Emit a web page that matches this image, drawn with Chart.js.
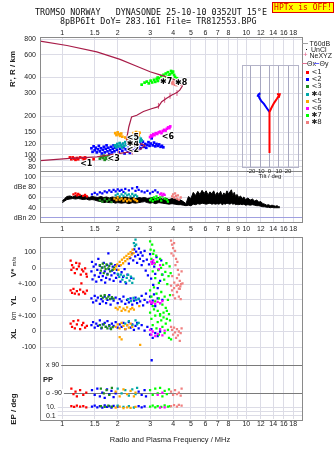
<!DOCTYPE html>
<html>
<head>
<meta charset="utf-8">
<title>Ionogram TR812553</title>
<script src="https://cdn.jsdelivr.net/npm/chart.js@4.4.0/dist/chart.umd.min.js"></script>
<style>
  html, body { margin: 0; padding: 0; background: #fff; }
  #page { position: relative; width: 335px; height: 451px; overflow: hidden; font-family: "Liberation Sans", Arial, sans-serif; color: #222; }
  #page canvas { position: absolute; left: 0; top: 0; }
  .txt { position: absolute; white-space: pre; line-height: 1; }
  .mono { font-family: "DejaVu Sans Mono", monospace; font-size: 8.4px; color: #111; }
  .rot { position: absolute; white-space: pre; line-height: 1; font-weight: bold; font-size: 8px; transform: translate(-50%, -50%) rotate(-90deg); }
  #hptx { position: absolute; left: 272px; top: 2px; width: 60px; height: 9px; background: #ffff00; border: 1px solid #e00000; color: #e00000; font-family: "DejaVu Sans Mono", monospace; font-size: 8px; line-height: 9px; text-align: center; }
</style>
</head>
<body>
<div id="page">
  <canvas id="cTop" width="335" height="451"></canvas>
  <canvas id="cDbe" width="335" height="451"></canvas>
  <canvas id="cLow" width="335" height="451"></canvas>
  <canvas id="cTilt" width="335" height="451"></canvas>

  <div class="txt mono" style="left:35px;top:8px">TROMSO NORWAY   DYNASONDE 25-10-10 0352UT 15°E</div>
  <div class="txt mono" style="left:60px;top:16.5px">8pBP6It DoY= 283.161 File= TR812553.BPG</div>
  <div id="hptx">HPTx is OFF!</div>

  <div class="rot" style="left:13px;top:69px">R', R / km</div>
  <div class="rot" style="left:14px;top:267px">V* <span style="font-size:6px;font-weight:normal">m/s</span></div>
  <div class="rot" style="left:14px;top:301px">YL</div>
  <div class="rot" style="left:14px;top:316px;font-size:6.5px;font-weight:normal">km</div>
  <div class="rot" style="left:14px;top:334px">XL</div>
  <div class="rot" style="left:14px;top:409px">EP / deg</div>
  <div class="txt" style="left:43px;top:376px;font-size:7.5px;font-weight:bold">PP</div>
  <div class="txt" style="left:270px;top:172.5px;transform:translateX(-50%);font-size:6px">Tilt / deg</div>
  <div class="txt" style="left:170px;top:436px;transform:translateX(-50%);font-size:7.5px">Radio and Plasma Frequency / MHz</div>
</div>

<script>
// ---- axes ----
const freqTicks = [1, 1.5, 2, 3, 4, 5, 6, 7, 8, 9, 10, 12, 14, 16, 18];
const edgeFreqLabels = [1, 1.5, 2, 3, 4, 5, 6, 7, 8, 10, 12, 14, 16, 18];
const midFreqLabels = [1, 1.5, 2, 3, 4, 5, 6, 7, 8, 9, 10, 12, 14, 16, 18];
const heightTicks = [80, 90, 100, 120, 150, 200, 300, 400, 600, 800];
const dbTicks = [20, 40, 60, 80, 100];
const dbNames = ['dBn 20', '40', '60', 'dBe 80', '100'];
const rowTicks = [100, 0, -100, -200, -300, -400, -500];          // V* scale, shared rows
const rowNames = ['100', '0', '+-100', '0', '+-100', '0', '-100'];
const tiltTicks = [-20, -10, 0, 10, 20];

// legend
const clusterNames = ['<1', '<2', '<3', '✱4', '<5', '<6', '✱7', '✱8'];
const clusterColors = ['#ff0000', '#0000ff', '#1e8c1e', '#00a8a8', '#ffa500', '#ff00ff', '#00ff00', '#f08080'];
const drawOrder = [7, 5, 6, 4, 3, 2, 1, 0];

// ---- top panel: virtual height vs frequency ----
const profile = [[0.757,89.6],[1.10,93.4],[1.54,95.9],[1.89,100.6],[2.06,102],[2.33,104.8],[2.5,106],[2.64,109],[2.81,118],[2.7,121],[2.5,119],[2.35,118],[2.26,124],[2.24,134],[2.3,165],[2.38,197],[2.54,203],[2.76,217],[3.05,228],[3.33,237],[3.47,259],[3.69,275],[3.94,292],[4.2,305],[4.36,320],[4.5,345],[4.45,356],[4.3,368],[4.1,383],[3.85,398],[3.4,420],[3.0,444],[2.5,495],[2.06,555],[1.54,635],[1.06,712],[0.757,771]];
const neXYZ = [[3.33,240],[3.6,268],[3.85,288],[4.2,303],[2.02,102],[2.4,105]];

const topRed = [[1.10,95],[1.12,92],[1.14,95],[1.16,93],[1.18,91],[1.20,94],[1.22,92],[1.25,95],[1.29,94],[1.31,92],[1.33,95],[1.35,93],[1.48,92]];
const topBlue = [[1.44,112],[1.46,105],[1.48,116],[1.50,108],[1.52,113],[1.54,104],[1.56,110],[1.58,117],[1.60,106],[1.62,112],[1.64,102],[1.66,109],[1.68,115],[1.70,104],[1.72,111],[1.74,118],[1.76,106],[1.78,113],[1.80,101],[1.82,108],[1.84,115],[1.86,104],[1.88,111],[1.90,118],[1.92,106],[1.94,113],[1.96,100],[1.98,109],[2.00,116],[2.03,104],[2.06,111],[2.09,119],[2.12,107],[2.15,114],[2.18,102],[2.21,110],[2.24,121],[2.27,106],[2.30,114],[2.33,103],[2.36,110],[2.39,118],[2.42,108],[2.45,115],[2.48,122],[2.51,111],[2.54,118],[2.57,109],[2.60,116],[2.63,123],[2.66,112],[2.70,119],[2.74,126],[2.78,115],[2.82,121],[2.86,113],[2.90,119],[2.94,125],[2.98,117],[3.02,122],[3.06,134],[3.10,118],[3.15,124],[3.20,116],[3.25,121],[3.30,117],[3.36,120],[3.42,115],[3.48,117],[3.54,114]];
const topGreen = [[1.60,93],[1.63,96],[1.66,94],[1.68,98],[1.70,91],[1.72,95],[1.75,93],[1.78,97],[1.80,92],[1.83,95]];
const topTeal = [[1.93,118],[1.96,114],[1.99,121],[2.02,116],[2.05,123],[2.08,118],[2.11,114],[2.14,122],[2.17,117],[2.20,125],[2.24,119],[2.28,130],[2.31,124],[2.34,136],[2.37,127],[2.40,132],[2.43,122],[2.46,139],[2.49,128],[2.52,134],[2.55,124],[2.58,131],[2.61,137],[2.64,127],[2.67,133],[2.70,129]];
const topOrange = [[1.94,147],[1.97,142],[2.00,149],[2.03,144],[2.06,140],[2.09,146],[2.12,138],[2.20,136],[2.25,133],[2.44,147],[2.48,143],[2.52,150],[2.56,145],[2.60,141],[2.63,148]];
const topMagenta = [[3.00,137],[3.04,141],[3.08,139],[3.12,144],[3.17,142],[3.22,147],[3.28,145],[3.34,149],[3.40,151],[3.46,147],[3.52,153],[3.58,156],[3.64,154],[3.70,159],[3.76,163],[3.82,161],[3.86,166]];
const topLime = [[2.70,352],[2.80,365],[2.88,372],[2.95,360],[3.02,378],[3.08,366],[3.15,384],[3.20,370],[3.26,390],[3.30,376],[3.36,395],[3.42,380],[3.45,410],[3.50,388],[3.55,420],[3.60,398],[3.65,430],[3.70,405],[3.75,440],[3.80,415],[3.85,425],[3.90,450],[3.95,435],[4.00,445],[4.05,420],[4.10,405],[4.20,395],[3.30,400],[3.55,365]];
const topSalmon = [[3.94,366],[3.98,357],[4.02,371],[4.06,360],[4.10,352],[4.14,364],[4.18,349],[4.22,368],[4.26,356],[4.30,361],[4.35,352]];

const labelFreq = [1.25, 1.76, 2.24, 2.24, 2.24, 3.47, 3.40, 4.10];
const labelHeight = [85, 92, 109, 121, 135, 137, 368, 362];
const labelText = ['<1', '<3', '<2', '✱4', '<5', '<6', '✱7', '✱8'];

// ---- tilt inset ----
const tiltRed = [[0,14],[0,54],[2,58],[5,63],[8,67],[10,70],[11,71.5]];
const tiltRedTip = [[8,71.5],[11,71.5],[10,68]];
const tiltBlue = [[0,54],[-3,58],[-6,62],[-9,65],[-11,68],[-12,71]];
const tiltBlueTip = [[-13,69],[-12,71],[-10,72.5]];

// ---- echo amplitude panel ----
const dbeFreq = [1.0,1.03,1.06,1.1,1.14,1.18,1.22,1.26,1.3,1.35,1.4,1.45,1.5,1.56,1.62,1.68,1.74,1.8,1.87,1.94,2.0,2.1,2.2,2.3,2.4,2.5,2.6,2.7,2.8,2.9,3.0,3.1,3.2,3.35,3.5,3.65,3.8,3.95,4.1,4.25,4.4,4.55,4.7,4.85,5.0,5.15,5.3,5.45,5.6,5.75,5.9,6.05,6.2,6.35,6.5,6.65,6.8,6.95,7.1,7.25,7.4,7.55,7.7,7.85,8.0,8.15,8.3,8.45,8.6,8.75,8.9,9.1,9.3,9.5,9.7,9.9,10.2,10.5,10.8,11.1,11.4,11.7,12.0,12.3,12.6,12.9,13.2,13.5,13.8,14.1,14.4,14.7,15.0,15.2];
const dbeHigh = [53,58,62,63,61,64,62,65,62,63,60,62,61,60,62,60,61,59,61,60,62,60,61,59,60,58,60,59,60,58,59,60,58,60,57,59,56,58,57,56,55,52,48,62,58,70,64,72,66,74,68,73,65,71,67,73,64,70,66,72,63,69,65,73,67,71,75,64,70,62,66,60,63,58,61,56,59,55,57,53,55,51,52,48,47,45,46,44,45,44,43,44,42,42];
const dbeLow = [50,53,56,57,58,57,58,57,56,57,55,56,55,53,52,50,51,50,51,49,50,49,50,48,50,49,50,51,52,50,49,50,48,50,49,48,47,48,47,46,46,45,44,45,44,47,46,48,47,49,48,47,48,49,47,48,47,48,47,49,46,48,47,49,48,47,49,47,48,46,47,46,47,46,47,45,46,45,46,45,44,44,43,42,42,41,41,40,41,40,40,40,40,40];

const dbRed = [[1.15,66],[1.18,68],[1.20,64],[1.22,67],[1.24,65],[1.30,63],[1.33,65],[1.36,62]];
const dbBlue = [[1.45,66],[1.50,69],[1.55,66],[1.60,70],[1.65,68],[1.70,72],[1.75,70],[1.80,74],[1.85,71],[1.90,75],[1.95,72],[2.00,76],[2.05,73],[2.10,75],[2.15,71],[2.20,77],[2.30,74],[2.40,78],[2.50,73],[2.55,80],[2.60,75],[2.70,72],[2.80,70],[2.90,73],[3.00,68],[3.10,71],[3.20,74],[3.30,70]];
const dbGreen = [[1.60,55],[1.65,52],[1.70,57],[1.75,53],[1.80,56],[1.85,51]];
const dbTeal = [[1.95,64],[2.00,67],[2.05,62],[2.10,66],[2.15,63],[2.20,68],[2.25,64],[2.30,66],[2.35,62],[2.40,67],[2.45,63],[2.50,65],[2.55,62]];
const dbOrange = [[1.92,58],[1.97,55],[2.00,60],[2.05,56],[2.10,58],[2.15,54],[2.20,57],[2.25,53],[2.30,56],[2.35,54],[2.45,57],[2.50,55],[2.55,53]];
const dbMagenta = [[3.40,66],[3.45,68],[3.50,64],[3.55,67],[3.60,65]];
const dbLime = [[3.00,55],[3.05,58],[3.10,53],[3.15,60],[3.20,56],[3.25,62],[3.30,57],[3.40,60],[3.45,54],[3.50,62],[3.60,58],[3.70,56],[3.75,52]];
const dbSalmon = [[3.95,62],[4.00,66],[4.05,60],[4.10,68],[4.15,63],[4.20,58],[4.25,64],[4.30,56],[4.40,60]];

// ---- lower panel: V* (m/s) ----
const vRed = [[1.11,48],[1.13,20],[1.12,-10],[1.15,5],[1.17,-30],[1.19,35],[1.20,-5],[1.23,12],[1.26,-40],[1.28,-8],[1.30,-20],[1.33,0],[1.35,-35],[1.36,-52],[1.24,30]];
const vBlue = [[1.44,-20],[1.45,40],[1.46,-70],[1.48,10],[1.50,-45],[1.52,25],[1.53,-85],[1.55,-10],[1.57,60],[1.58,-55],[1.60,15],[1.61,-30],[1.63,-75],[1.65,5],[1.66,-50],[1.68,35],[1.70,-20],[1.71,-90],[1.73,-60],[1.75,20],[1.76,-35],[1.78,95],[1.79,-5],[1.81,-70],[1.83,30],[1.85,-45],[1.86,-15],[1.88,10],[1.90,-80],[1.92,-30],[1.94,20],[1.96,-60],[1.98,-10],[2.01,-40],[2.04,15],[2.07,-85],[2.10,-25],[2.14,-55],[2.18,-5],[2.22,-95],[2.26,-40],[2.30,30],[2.34,65],[2.37,-60],[2.40,95],[2.43,50],[2.46,120],[2.49,75],[2.52,105],[2.55,35],[2.58,85],[2.61,125],[2.64,60],[2.67,100],[2.70,20],[2.73,80],[2.76,45],[2.80,110],[2.84,-15],[2.88,55],[2.92,-45],[2.96,25],[3.00,90],[3.04,-65],[3.08,40],[3.12,-105],[3.16,10],[3.20,-35],[3.25,70],[3.30,-125],[3.35,-5],[3.40,-80],[3.45,50],[3.50,-40]];
const vGreen = [[1.60,20],[1.62,-15],[1.64,5],[1.66,30],[1.68,-30],[1.70,10],[1.72,-5],[1.74,25],[1.76,-40],[1.78,0],[1.80,15],[1.82,-20],[1.85,28],[1.88,-10],[1.91,5]];
const vTeal = [[2.00,-35],[2.04,-55],[2.08,-40],[2.12,-72],[2.16,-48],[2.20,-88],[2.24,-60],[2.28,-42],[2.32,-78],[2.36,-52],[2.40,-92],[2.44,-65],[2.45,160],[2.48,140],[2.50,182],[2.52,150]];
const vOrange = [[1.93,-5],[1.96,12],[1.99,25],[2.02,-10],[2.05,40],[2.08,20],[2.11,55],[2.14,32],[2.17,68],[2.20,45],[2.23,78],[2.26,58],[2.29,92],[2.32,70],[2.35,102],[2.38,86],[2.41,118],[2.44,96]];
const vMagenta = [[3.05,40],[3.08,28],[3.12,52],[3.16,34],[3.35,-5],[3.40,20]];
const vLime = [[3.00,170],[3.02,118],[3.05,60],[3.08,150],[3.10,-20],[3.12,92],[3.15,112],[3.18,30],[3.20,-62],[3.24,80],[3.28,40],[3.32,-12],[3.35,-92],[3.40,60],[3.44,2],[3.48,-40],[3.53,22],[3.58,-72],[3.63,-22],[3.68,32],[3.72,-100],[3.78,-50],[3.83,12],[3.88,-30]];
const vSalmon = [[3.90,175],[3.95,150],[4.00,128],[4.05,160],[4.10,110],[3.92,95],[4.02,80],[4.15,60],[4.22,40],[4.12,20],[4.25,-10],[4.30,-40],[4.20,-62],[4.35,-80],[4.42,-100],[4.18,-110],[4.30,-128],[4.45,-20],[3.96,-50],[4.06,-90],[4.38,-115],[4.50,-95]];

// ---- YL (km) ----
const ylRed = [[1.11,60],[1.13,45],[1.15,70],[1.17,40],[1.20,55],[1.23,35],[1.25,65],[1.30,50],[1.33,40],[1.36,58],[1.27,105]];
const ylBlue = [[1.44,10],[1.47,-15],[1.50,25],[1.53,-5],[1.56,15],[1.60,-25],[1.63,5],[1.66,-10],[1.70,20],[1.73,-20],[1.76,0],[1.80,30],[1.83,-30],[1.86,10],[1.90,-5],[1.95,15],[2.00,-20],[2.05,5],[2.10,-10],[2.15,20],[2.20,-25],[2.25,0],[2.30,-15],[2.35,10],[2.40,-30],[2.45,-5],[2.50,15],[2.55,-20],[2.60,5],[2.65,-10],[2.70,25],[2.75,-35],[2.80,0],[2.85,40],[2.90,-15],[3.00,20],[3.05,-25],[3.10,-5],[3.15,35],[3.20,-40],[3.30,10],[3.40,-20],[3.50,0]];
const ylGreen = [[1.62,25],[1.66,15],[1.70,30],[1.74,10],[1.78,20],[1.82,5],[1.86,18],[1.90,8]];
const ylTeal = [[2.28,5],[2.36,-8],[2.44,12],[2.52,-2],[2.60,8]];
const ylOrange = [[1.95,-50],[2.00,-60],[2.05,-45],[2.10,-70],[2.15,-55],[2.20,-65],[2.25,-48],[2.30,-72],[2.35,-58],[2.40,-50],[2.45,-62],[2.62,-40]];
const ylMagenta = [[3.00,-10],[3.05,-20],[3.10,-15],[3.20,-25],[3.30,-12],[3.40,-20],[3.50,-8]];
const ylLime = [[3.00,60],[3.05,20],[3.10,-40],[3.15,80],[3.20,-10],[3.25,40],[3.30,-70],[3.35,10],[3.40,-100],[3.45,50],[3.50,-30],[3.55,-80],[3.60,20],[3.65,-50],[3.70,-120],[3.75,0],[3.80,-90],[3.85,30]];
const ylSalmon = [[3.90,90],[3.95,60],[4.00,30],[4.05,75],[4.10,10],[4.20,50],[4.25,95],[4.30,20],[4.35,70],[4.40,5]];

// ---- XL (km) ----
const xlRed = [[1.11,50],[1.13,30],[1.15,65],[1.17,20],[1.20,45],[1.22,70],[1.25,15],[1.28,40],[1.30,55],[1.33,25],[1.36,35]];
const xlBlue = [[1.44,40],[1.47,60],[1.50,25],[1.53,50],[1.56,35],[1.60,70],[1.63,20],[1.66,45],[1.70,55],[1.73,30],[1.76,65],[1.80,40],[1.83,20],[1.86,50],[1.90,35],[1.95,60],[2.00,25],[2.05,45],[2.10,30],[2.15,55],[2.20,15],[2.25,40],[2.30,60],[2.35,25],[2.40,45],[2.45,10],[2.50,35],[2.55,55],[2.60,20],[2.70,40],[2.80,5],[2.90,30],[3.00,-20],[3.05,15],[3.10,-40],[3.20,-10],[3.30,-30],[3.40,0],[3.06,-182]];
const xlGreen = [[1.60,40],[1.64,25],[1.68,45],[1.72,30],[1.76,20],[1.80,35],[1.84,15],[1.88,28]];
const xlTeal = [[2.20,50],[2.30,65],[2.40,40],[2.50,70],[2.55,45],[2.60,55]];
const xlOrange = [[1.95,30],[2.00,45],[2.05,20],[2.10,55],[2.15,35],[2.20,15],[2.25,40],[2.30,25],[2.35,50],[2.40,30],[2.05,-35],[2.10,-50],[2.65,-85]];
const xlMagenta = [[3.00,10],[3.05,-20],[3.10,0],[3.20,-30],[3.30,-15],[3.40,15],[3.50,-25],[3.60,5]];
const xlLime = [[3.00,120],[3.05,80],[3.10,40],[3.15,140],[3.20,100],[3.25,20],[3.30,60],[3.35,-20],[3.40,110],[3.45,70],[3.50,30],[3.55,90],[3.60,-10],[3.65,50],[3.70,130],[3.75,10],[3.80,-40],[3.85,70],[3.90,-50]];
const xlSalmon = [[3.90,30],[3.95,10],[4.00,-20],[4.05,25],[4.10,-5],[4.15,-40],[4.20,15],[4.25,-25],[4.30,0],[4.35,-60],[4.40,-10],[4.45,20]];

// ---- PP (deg) ----
const ppRed = [[1.12,-60],[1.15,-95],[1.18,-80],[1.20,-110],[1.25,-70],[1.30,-100],[1.35,-85]];
const ppBlue = [[1.45,-70],[1.50,-100],[1.55,-60],[1.60,-110],[1.65,-85],[1.70,-120],[1.75,-65],[1.80,-95],[1.85,-75],[1.90,-115],[1.95,-90],[2.60,-80],[2.70,-100],[2.80,-70],[2.85,-110]];
const ppGreen = [[1.62,-60],[1.68,-90],[1.74,-70],[1.80,-100],[1.86,-55]];
const ppTeal = [[2.00,-60],[2.10,-90],[2.20,-70],[2.30,-105],[2.40,-65],[2.50,-95],[2.55,-55]];
const ppOrange = [[1.95,-80],[2.05,-110],[2.15,-65],[2.25,-95],[2.35,-75],[2.45,-110],[2.50,-85]];
const ppMagenta = [[3.30,-100],[3.50,-85]];
const ppLime = [[3.00,-70],[3.10,-100],[3.20,-60],[3.30,-90],[3.40,-55],[3.50,-110],[3.60,-75],[3.70,-95],[3.80,-65]];
const ppSalmon = [[3.90,-80],[4.00,-100],[4.10,-70],[4.20,-95],[4.30,-85],[4.40,-105],[4.45,-60]];

// ---- EP (deg) ----
const epRed = [[1.12,20],[1.16,12],[1.20,25],[1.25,15],[1.30,18],[1.35,10]];
const epBlue = [[1.45,15],[1.50,25],[1.55,10],[1.60,20],[1.65,8],[1.70,30],[1.75,12],[1.80,18],[1.85,9],[1.90,22],[2.00,14],[2.60,20],[2.70,10],[2.80,16]];
const epGreen = [[1.62,20],[1.70,12],[1.78,25],[1.86,15]];
const epTeal = [[2.00,25],[2.15,12],[2.30,20],[2.45,9]];
const epOrange = [[1.95,8],[2.05,15],[2.15,6],[2.25,10],[2.35,7],[2.50,12]];
const epMagenta = [[3.40,8],[3.60,10]];
const epLime = [[3.00,15],[3.10,25],[3.20,10],[3.30,20],[3.45,12],[3.60,28],[3.75,14],[3.85,18]];
const epSalmon = [[3.90,20],[4.05,35],[4.20,15],[4.30,40],[4.45,25]];

// ---------------------------------------------------------------
const GRID = '#dcdce6';
const FRAME = '#8a8a8a';
const MAROON = '#a81c48';
const tickFont = { family: 'Liberation Sans, Arial, sans-serif', size: 7 };

const setW = w => s => { s.width = w; };
const setH = h => s => { s.height = h; };
const pts = arr => arr.map(p => ({ x: p[0], y: p[1] }));

function cloud(arr, color, r, yAxisID) {
    return { data: pts(arr), pointStyle: 'rect', pointRadius: r, pointHoverRadius: r,
        backgroundColor: color, borderWidth: 0, showLine: false, yAxisID: yAxisID };
}

function clouds(sets, r, yAxisID) {
    return drawOrder.map(i => cloud(sets[i], clusterColors[i], r, yAxisID));
}

// frequency axis; the axis box is given an exact height so the plot area lands where it should
function freqAxis(position, labels, pad, h) {
    return {
        type: 'logarithmic', position, min: 0.7565, max: 20.08,
        afterBuildTicks: s => { s.ticks = freqTicks.map(v => ({ value: v })); },
        afterFit: setH(h),
        border: { display: false },
        grid: { color: GRID, drawTicks: false },
        ticks: { autoSkip: false, maxRotation: 0, padding: pad, color: '#222', font: tickFont,
            callback: v => labels.includes(v) ? String(v) : '' }
    };
}

function rowAxis(type, min, max, vals, names, w, gridColor, tickExtra, weight) {
    return {
        type, min, max, position: 'left', weight: weight || 0,
        afterBuildTicks: s => { s.ticks = vals.map(v => ({ value: v })); },
        afterFit: setW(w),
        border: { display: false },
        grid: { color: gridColor || GRID, drawTicks: false },
        ticks: Object.assign({ padding: 4, color: '#222', font: tickFont, autoSkip: false,
            callback: v => { const i = vals.indexOf(v); return i < 0 ? '' : names[i]; } }, tickExtra || {})
    };
}

const framePlugin = {
    id: 'frame',
    afterDraw(chart, args, opts) {
        const a = chart.chartArea, c = chart.ctx;
        c.save();
        c.strokeStyle = opts.color || FRAME;
        c.lineWidth = 1;
        c.strokeRect(Math.round(a.left) + 0.5, Math.round(a.top) + 0.5, Math.round(a.right - a.left), Math.round(a.bottom - a.top));
        c.restore();
    }
};

const tagPlugin = {
    id: 'tags',
    afterDatasetsDraw(chart) {
        const c = chart.ctx, sx = chart.scales.x, sy = chart.scales.y;
        c.save();
        c.font = 'bold 8px "DejaVu Sans", sans-serif';
        c.textBaseline = 'middle';
        c.lineWidth = 2;
        c.strokeStyle = '#fff';
        c.fillStyle = '#000';
        labelText.forEach((t, i) => {
            const x = sx.getPixelForValue(labelFreq[i]), y = sy.getPixelForValue(labelHeight[i]);
            c.strokeText(t, x, y);
            c.fillText(t, x, y);
        });
        c.restore();
    }
};

const base = {
    animation: false, responsive: false, devicePixelRatio: 1,
    plugins: { legend: { display: false }, tooltip: { enabled: false } }
};
const withFrame = color => Object.assign({}, base.plugins, { frame: { color } });

// top panel: plot area 40..302 x 37..171
new Chart(document.getElementById('cTop'), {
    type: 'scatter',
    data: { datasets: [
        { data: pts(profile), showLine: true, borderColor: MAROON, borderWidth: 1.2, pointRadius: 0, yAxisID: 'y' },
        { data: pts(neXYZ), pointStyle: 'line', rotation: 90, pointRadius: 3, borderColor: '#e06088', borderWidth: 1, yAxisID: 'y' },
        ...clouds([topRed, topBlue, topGreen, topTeal, topOrange, topMagenta, topLime, topSalmon], 1.9, 'y')
    ]},
    options: Object.assign({}, base, {
        layout: { padding: { left: 0, right: 33, top: 0, bottom: 280 } },
        plugins: withFrame(FRAME),
        scales: {
            x: freqAxis('top', edgeFreqLabels, 0, 37),
            y: rowAxis('logarithmic', 74.4, 829.5, heightTicks, heightTicks.map(String), 40)
        }
    }),
    plugins: [framePlugin, tagPlugin]
});

// amplitude panel: plot area 40..302 x 171..222.3
new Chart(document.getElementById('cDbe'), {
    type: 'scatter',
    data: { datasets: [
        ...clouds([dbRed, dbBlue, dbGreen, dbTeal, dbOrange, dbMagenta, dbLime, dbSalmon], 1.6, 'y'),
        { data: dbeFreq.map((f, i) => ({ x: f, y: dbeLow[i] })), showLine: true, borderColor: '#000', borderWidth: 1, pointRadius: 0, yAxisID: 'y' },
        { data: dbeFreq.map((f, i) => ({ x: f, y: dbeHigh[i] })), showLine: true, borderColor: '#000', borderWidth: 1, pointRadius: 0, fill: '-1', backgroundColor: '#000', yAxisID: 'y' }
    ]},
    options: Object.assign({}, base, {
        layout: { padding: { left: 0, right: 33, top: 171, bottom: 216.7 } },
        plugins: withFrame(FRAME),
        scales: {
            x: freqAxis('bottom', midFreqLabels, 3, 12),
            y: rowAxis('linear', 11.6, 111.7, dbTicks, dbNames, 40, ctx => (ctx.tick && ctx.tick.value === 20) ? '#a0a0e0' : GRID)
        }
    }),
    plugins: [framePlugin]
});

// lower panel: plot area 40..302 x 236.7..419.3
const inside = { mirror: true, padding: 6, showLabelBackdrop: true, backdropColor: '#fff', backdropPadding: { left: 6, right: 2, top: 0, bottom: 0 } };
new Chart(document.getElementById('cLow'), {
    type: 'scatter',
    data: { datasets: [
        ...clouds([vRed, vBlue, vGreen, vTeal, vOrange, vMagenta, vLime, vSalmon], 1.6, 'yV'),
        ...clouds([ylRed, ylBlue, ylGreen, ylTeal, ylOrange, ylMagenta, ylLime, ylSalmon], 1.6, 'yYL'),
        ...clouds([xlRed, xlBlue, xlGreen, xlTeal, xlOrange, xlMagenta, xlLime, xlSalmon], 1.6, 'yXL'),
        ...clouds([ppRed, ppBlue, ppGreen, ppTeal, ppOrange, ppMagenta, ppLime, ppSalmon], 1.6, 'yPP'),
        ...clouds([epRed, epBlue, epGreen, epTeal, epOrange, epMagenta, epLime, epSalmon], 1.6, 'yEP')
    ]},
    options: Object.assign({}, base, {
        layout: { padding: { left: 0, right: 33, top: 236.7, bottom: 19.7 } },
        plugins: withFrame(FRAME),
        scales: {
            x: freqAxis('bottom', edgeFreqLabels, 1, 12),
            yV: rowAxis('linear', -955.7, 200, rowTicks, rowNames, 40, GRID, null, 10),
            yYL: { type: 'linear', min: -755.7, max: 400, display: false },
            yXL: { type: 'linear', min: -555.7, max: 600, display: false },
            yPP: rowAxis('linear', -257.1, 916.4, [90, -90], ['x 90', 'o -90'], 0, '#7a7a7a', inside),
            yEP: rowAxis('logarithmic', 0.0139, 4.2e41, [10, 1, 0.1], ['10.', '', '0.1'], 0, GRID, inside)
        }
    }),
    plugins: [framePlugin]
});

// tilt inset: plot area 241.7..297.3 x 65..167.3
const lineSet = (arr, color) => ({ data: pts(arr), showLine: true, borderColor: color, borderWidth: 2, pointRadius: 0 });
new Chart(document.getElementById('cTilt'), {
    type: 'scatter',
    data: { datasets: [
        lineSet(tiltRed, '#ff0000'), lineSet(tiltRedTip, '#ff0000'),
        lineSet(tiltBlue, '#0000ff'), lineSet(tiltBlueTip, '#0000ff')
    ]},
    options: Object.assign({}, base, {
        layout: { padding: { left: 241.7, right: 37.7, top: 65, bottom: 275.7 } },
        plugins: withFrame('#b4b4c8'),
        scales: {
            x: { type: 'linear', min: -30, max: 30,
                afterBuildTicks: s => { s.ticks = tiltTicks.map(v => ({ value: v })); },
                afterFit: setH(8),
                border: { display: false },
                grid: { color: '#a8a8c0', drawTicks: false },
                ticks: { autoSkip: false, maxRotation: 0, padding: 0, color: '#222', font: { family: tickFont.family, size: 6 } } },
            y: { type: 'linear', min: 0, max: 100, display: false }
        }
    }),
    plugins: [framePlugin]
});

// legend
const page = document.getElementById('page');
function addBox(css, text) {
    const d = document.createElement('div');
    d.style.cssText = 'position:absolute;white-space:pre;line-height:1;font-size:7px;' + css;
    if (text) d.textContent = text;
    page.appendChild(d);
    return d;
}
addBox('left:302px;top:43px;width:6px;height:1px;background:#a0a0a0');
addBox('left:309.5px;top:39.8px', 'T60dB');
addBox('left:306px;top:48.5px;width:1px;height:1px;background:#000');
addBox('left:311px;top:45.8px', 'UnCl');
addBox('left:303px;top:51px;color:#e06088;font-size:8px', '+');
addBox('left:309.5px;top:51.8px', 'NeXYZ');
addBox('left:302px;top:63px;width:5px;height:1px;background:#e07090');
addBox('left:307px;top:60px', 'Θx');
addBox('left:314px;top:63px;width:5px;height:1px;background:#6060ff');
addBox('left:319.5px;top:60px', 'Θy');
clusterNames.forEach((n, i) => {
    const y = 72.7 + i * 7.14;
    addBox('left:305.5px;top:' + (y - 1.5) + 'px;width:3px;height:3px;background:' + clusterColors[i]);
    addBox('left:311.5px;top:' + (y - 3.6) + 'px;font-family:DejaVu Sans,sans-serif', n);
});
</script>
</body>
</html>
